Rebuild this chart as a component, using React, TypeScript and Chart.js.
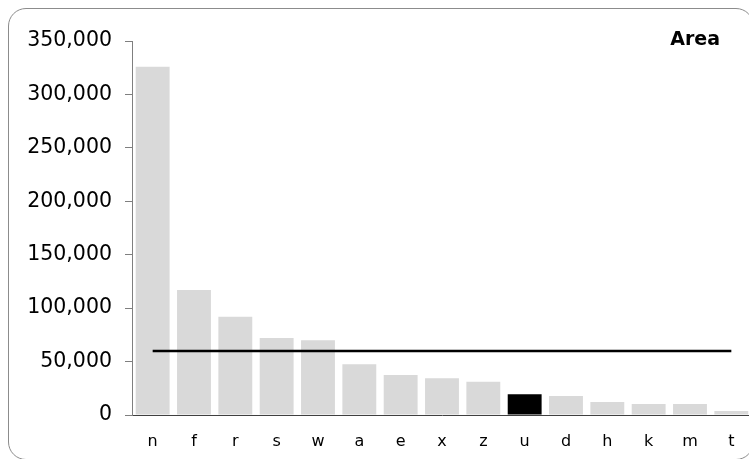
import React, { useEffect, useRef } from "react";
import { Chart, registerables } from "chart.js";

Chart.register(...registerables);

const categories = ["n", "f", "r", "s", "w", "a", "e", "x", "z", "u", "d", "h", "k", "m", "t"];
const areaValues = [326000, 117000, 92000, 72000, 70000, 47500, 37500, 34500, 31000, 19500, 17800, 12200, 10300, 10300, 3700];
const highlightCategory = "u";
const referenceValue = 60000;
const referenceValues = categories.map(() => referenceValue);
const titleText = "Area";

const FONT = "'DejaVu Sans', Verdana, sans-serif";

export default function App() {
  const canvasRef = useRef<HTMLCanvasElement | null>(null);

  useEffect(() => {
    const canvas = canvasRef.current;
    if (!canvas) return;
    const titlePlugin = {
      id: "cornerTitle",
      afterDraw(chart: any) {
        const ctx = chart.ctx;
        ctx.save();
        ctx.font = `bold 19px ${FONT}`;
        ctx.fillStyle = "#000";
        ctx.textAlign = "right";
        ctx.textBaseline = "middle";
        ctx.fillText(titleText, 720, 40);
        ctx.restore();
      },
    };
    const chart = new Chart(canvas, {
      type: "bar",
      data: {
        labels: categories,
        datasets: [
          {
            type: "line",
            label: "Reference",
            data: referenceValues,
            borderColor: "#000",
            borderWidth: 2.5,
            pointRadius: 0,
            fill: false,
            order: 0,
          } as any,
          {
            type: "bar",
            label: titleText,
            data: areaValues,
            backgroundColor: categories.map((c) => (c === highlightCategory ? "#000" : "#d9d9d9")),
            borderWidth: 0,
            barPercentage: 0.82,
            categoryPercentage: 1,
            order: 1,
          },
        ],
      },
      options: {
        responsive: false,
        animation: false,
        layout: { padding: { top: 41, right: 0, bottom: 0, left: 0 } },
        plugins: {
          legend: { display: false },
          title: { display: false },
          tooltip: { enabled: false },
        },
        scales: {
          x: {
            grid: { display: false, drawTicks: false },
            border: { display: true, color: "#404040", width: 1 },
            ticks: { color: "#000", font: { family: FONT, size: 16 }, padding: 17 },
            afterFit: (s: any) => {
              s.height = 44;
            },
          },
          y: {
            min: 0,
            max: 350000,
            grid: { display: true, drawOnChartArea: false, drawTicks: true, tickLength: 7, tickColor: "#7f7f7f" },
            border: { display: true, color: "#7f7f7f", width: 1 },
            ticks: {
              stepSize: 50000,
              color: "#000",
              font: { family: FONT, size: 20.5 },
              padding: 13,
              callback: (v: any) => Number(v).toLocaleString("en-US"),
            },
            afterFit: (s: any) => {
              s.width = 132;
            },
          },
        },
      },
      plugins: [titlePlugin],
    });
    return () => chart.destroy();
  }, []);

  return (
    <div style={{ position: "fixed", left: 0, top: 0, width: 749, height: 459, overflow: "hidden", background: "#fff" }}>
      <div
        style={{
          position: "absolute",
          left: 8,
          top: 8,
          width: 746,
          height: 452,
          border: "1px solid #8c8c8c",
          borderRadius: 18,
          boxSizing: "border-box",
        }}
      />
      <canvas ref={canvasRef} width={752} height={459} style={{ position: "absolute", left: 0, top: 0, width: 752, height: 459 }} />
    </div>
  );
}
